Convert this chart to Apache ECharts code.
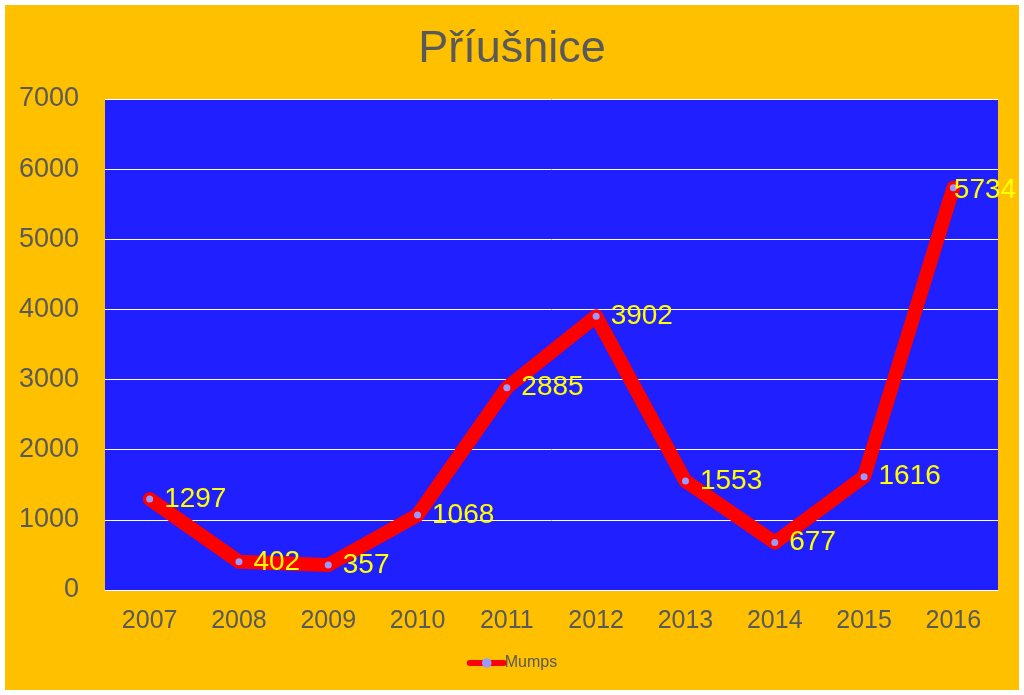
<!DOCTYPE html>
<html><head><meta charset="utf-8">
<script src="https://cdn.jsdelivr.net/npm/echarts@6/dist/echarts.min.js"></script>
<style>html,body{margin:0;padding:0;background:#fff;}#c{position:absolute;left:5px;top:5px;width:1014px;height:685px;}</style>
</head><body><div id="c"></div>
<script>
const categories = ['2007','2008','2009','2010','2011','2012','2013','2014','2015','2016'];
const mumps = [1297, 402, 357, 1068, 2885, 3902, 1553, 677, 1616, 5734];
const seriesName = 'Mumps';
const titleText = 'Příušnice';

const seriesData = mumps.map((v, i) => i === mumps.length - 1
  ? { value: v, label: { offset: [-14, 2] } }
  : v);

const chart = echarts.init(document.getElementById('c'));
chart.setOption({
  backgroundColor: '#FFC000',
  animation: false,
  title: { text: titleText, left: 'center', top: 17,
    textStyle: { fontFamily: 'Liberation Sans', fontSize: 45, fontWeight: 'normal', color: '#595959' } },
  legend: { bottom: 14, left: 'center', itemWidth: 34, itemHeight: 12, itemGap: 0,
    lineStyle: { width: 6 },
    textStyle: { fontFamily: 'Liberation Sans', fontSize: 16, color: '#595959', padding: [0, 0, 0, -4] } },
  grid: { left: 100, right: 21, top: 94, bottom: 100, show: true, backgroundColor: '#1F1FFF', borderWidth: 0 },
  xAxis: { type: 'category', data: categories, boundaryGap: true,
    axisLine: { show: true, lineStyle: { color: '#ffffff', width: 1 } },
    axisTick: { show: false },
    axisLabel: { fontFamily: 'Liberation Sans', fontSize: 25, color: '#595959', margin: 19 } },
  yAxis: { type: 'value', min: 0, max: 7000, interval: 1000,
    axisLine: { show: false }, axisTick: { show: false },
    splitLine: { lineStyle: { color: '#ffffff', width: 1 } },
    axisLabel: { fontFamily: 'Liberation Sans', fontSize: 27, color: '#595959', margin: 26,
      formatter: v => String(v) } },
  series: [{
    name: seriesName, type: 'line', data: seriesData,
    symbol: 'circle', symbolSize: 7,
    lineStyle: { color: '#FF0000', width: 14, join: 'round', cap: 'round' },
    itemStyle: { color: '#9999FF', borderWidth: 0 },
    label: { show: true, position: 'right', distance: 11, fontFamily: 'Liberation Sans', fontSize: 28, color: '#FFFF00' }
  }]
});
</script></body></html>
